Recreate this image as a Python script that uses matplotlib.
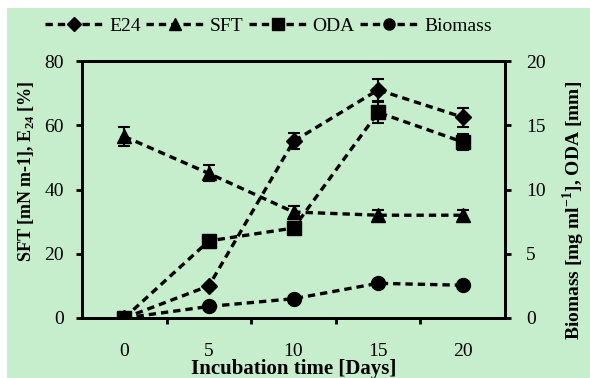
import numpy as np
import matplotlib.pyplot as plt
from matplotlib.patches import Rectangle
from matplotlib.lines import Line2D

days = ["0", "5", "10", "15", "20"]

e24 = [0, 10, 55, 71, 62.5]
e24_err = [0, 0, 2.5, 3.5, 3]
sft = [56.5, 45, 33, 32, 32]
sft_err = [3, 2.5, 2, 1.5, 1.5]

oda = [0, 6, 7, 16, 13.7]
oda_err = [0, 0, 0.5, 0.8, 0.6]
biomass = [0, 0.9, 1.5, 2.7, 2.55]
biomass_err = [0, 0, 0, 0, 0]

GREEN = "#C6EECC"

plt.rcParams["font.family"] = ["Liberation Serif", "DejaVu Serif"]
plt.rcParams["mathtext.fontset"] = "custom"
plt.rcParams["mathtext.rm"] = "Liberation Serif"
plt.rcParams["mathtext.bf"] = "Liberation Serif:bold"

fig = plt.figure(figsize=(5.9, 3.78), dpi=100)
fig.patch.set_facecolor("white")
fig.patches.append(Rectangle((7 / 590, 0), 1, 1 - 8 / 378, transform=fig.transFigure,
                             facecolor=GREEN, edgecolor="none", zorder=-10))

ax = fig.add_axes([82 / 590, 1 - 318 / 378, (505 - 82) / 590, (318 - 61) / 378])
ax.set_facecolor(GREEN)
ax2 = ax.twinx()

x = np.arange(len(days))
dash = (0, (2.2, 1.5))
line_kw = dict(color="black", linestyle=dash, linewidth=2.4,
               capsize=4, elinewidth=1.5, capthick=1.5, ecolor="black")

ax.errorbar(x, e24, yerr=e24_err, marker="D", markersize=8.5, **line_kw)
ax.errorbar(x, sft, yerr=sft_err, marker="^", markersize=10, **line_kw)
ax2.errorbar(x, oda, yerr=oda_err, marker="s", markersize=10, **line_kw)
ax2.errorbar(x, biomass, yerr=biomass_err, marker="o", markersize=10, **line_kw)

ax.set_xlim(-0.5, 4.5)
ax.set_ylim(0, 80)
ax2.set_ylim(0, 20)
ax.set_yticks([0, 20, 40, 60, 80])
ax2.set_yticks([0, 5, 10, 15, 20])
ax.set_xticks(x)
ax.set_xticklabels(days)
ax.set_xticks(np.arange(0.5, 4.0, 1.0), minor=True)
ax.tick_params(axis="x", which="major", length=0, labelsize=14, pad=18)
ax.tick_params(axis="x", which="minor", length=4, width=2, direction="out")
ax.tick_params(axis="y", length=4, width=2, direction="out", labelsize=14, pad=9)
ax2.tick_params(axis="y", length=4, width=2, direction="out", labelsize=14, pad=11)

for a in (ax, ax2):
    for s in a.spines.values():
        s.set_linewidth(2)

ax.set_xlabel("Incubation time [Days]", fontsize=15, fontweight="bold")
ax.xaxis.set_label_coords(0.5, -0.158)
ax.xaxis.label.set_va("top")

ax.set_ylabel(r"SFT [mN m-1], E$_{\mathbf{24}}$ [%]", fontsize=13, fontweight="bold")
ax.yaxis.set_label_coords(-0.133, 0.572)
ax.yaxis.label.set_va("center")

ax2.set_ylabel(r"Biomass [mg ml$^{\mathbf{-1}}$], ODA [mm]", fontsize=14, fontweight="bold")
ax2.yaxis.set_label_coords(1.163, 0.42)
ax2.yaxis.label.set_va("center")

handles = [Line2D([], [], color="black", linestyle=dash, linewidth=2.4, marker=m, markersize=ms)
           for m, ms in [("D", 7), ("^", 8), ("s", 8), ("o", 8)]]
fig.legend(handles, ["E24", "SFT", "ODA", "Biomass"], loc="upper center",
           bbox_to_anchor=(0.455, 1.0), ncol=4, frameon=False, fontsize=14,
           handlelength=3.0, handletextpad=0.3, columnspacing=0.25)

fig.savefig("out.png", dpi=100, facecolor=fig.get_facecolor())
